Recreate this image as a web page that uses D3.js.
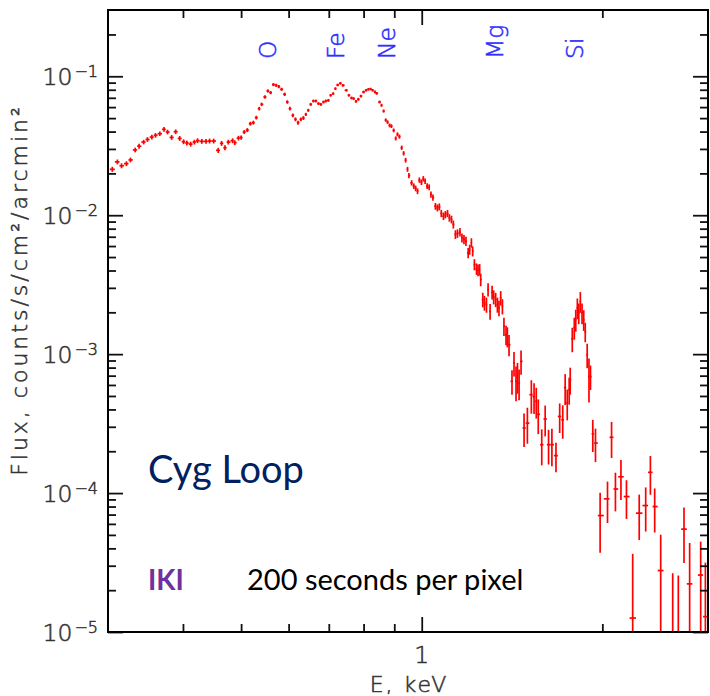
<!DOCTYPE html>
<html>
<head>
<meta charset="utf-8">
<script src="https://cdn.jsdelivr.net/npm/d3@7"></script>
<style>
  html, body { margin: 0; padding: 0; background: #fff; }
  svg { display: block; }
</style>
</head>
<body>
<svg id="chart" width="710" height="696"></svg>
<script>
// Cygnus Loop X-ray spectrum, 200 s exposure per pixel

// Bin centre energies, keV
const energy = [
  0.305, 0.311, 0.316, 0.322, 0.327, 0.333, 0.338, 0.344, 0.349, 0.355, 0.360, 0.366, 0.372, 0.377, 0.383, 0.389, 0.395,
  0.401, 0.406, 0.412, 0.418, 0.423, 0.430, 0.437, 0.443, 0.450, 0.458, 0.464, 0.470, 0.476, 0.484, 0.488, 0.495,
  0.500, 0.506, 0.512, 0.518, 0.524, 0.530, 0.536, 0.541, 0.548, 0.554, 0.560, 0.566, 0.572, 0.578, 0.584, 0.591,
  0.597, 0.603, 0.610, 0.616, 0.622, 0.629, 0.635,
  0.641, 0.647, 0.653, 0.660, 0.666, 0.673, 0.679, 0.686, 0.692, 0.699, 0.705, 0.712, 0.718, 0.724, 0.732, 0.739,
  0.749, 0.756, 0.764, 0.770, 0.777, 0.784, 0.792, 0.800, 0.808, 0.815, 0.822, 0.828, 0.836, 0.841, 0.851, 0.857,
  0.864, 0.871,
  0.877, 0.884, 0.890, 0.898, 0.905, 0.911, 0.918, 0.926, 0.933, 0.940, 0.947, 0.952, 0.962, 0.970, 0.977, 0.984,
  0.991, 0.999, 1.006, 1.013,
  1.021, 1.029, 1.036, 1.044, 1.054, 1.062, 1.070, 1.078, 1.087, 1.095, 1.104, 1.112, 1.121, 1.129, 1.138, 1.147,
  1.158, 1.167, 1.176, 1.185,
  1.195, 1.202, 1.210, 1.216, 1.224, 1.234, 1.241, 1.249, 1.254, 1.264, 1.272, 1.282, 1.290, 1.300, 1.310, 1.318,
  1.328, 1.337, 1.345, 1.354, 1.363, 1.371, 1.382, 1.389, 1.398,
  1.414, 1.425, 1.436, 1.444, 1.453, 1.464,
  1.481, 1.500, 1.523, 1.539, 1.552, 1.564, 1.585, 1.606, 1.627, 1.648, 1.674, 1.698, 1.718, 1.734, 1.748, 1.761, 1.768,
  1.782, 1.796, 1.806, 1.817, 1.827, 1.838, 1.850, 1.862, 1.873, 1.887, 1.900, 1.911, 1.928, 1.948,
  1.983, 2.040, 2.072, 2.103, 2.148, 2.194, 2.247, 2.304, 2.362, 2.405, 2.445, 2.502, 2.557, 2.620, 2.677, 2.736,
  2.796, 2.855, 2.917, 2.970
];

// Surface brightness, counts/s/cm2/arcmin2
const flux = [
  0.0214, 0.0242, 0.0227, 0.0235, 0.0250, 0.0295, 0.0314, 0.0336, 0.0351, 0.0365, 0.0376, 0.0386, 0.0415, 0.0397, 0.0363, 0.0399, 0.0357,
  0.0338, 0.0331, 0.0325, 0.0336, 0.0344, 0.0340, 0.0340, 0.0342, 0.0342, 0.0293, 0.0329, 0.0306, 0.0336, 0.0344, 0.0333, 0.0359,
  0.0362, 0.0397, 0.0410, 0.0456, 0.0464, 0.0504, 0.0585, 0.0628, 0.0709, 0.0784, 0.0763, 0.0871, 0.0861, 0.0843, 0.0806, 0.0742,
  0.0653, 0.0585, 0.0523, 0.0490, 0.0464, 0.0490, 0.0501,
  0.0532, 0.0569, 0.0628, 0.0664, 0.0664, 0.0636, 0.0628, 0.0653, 0.0664, 0.0671, 0.0730, 0.0750, 0.0815, 0.0866, 0.0890, 0.0861,
  0.0793, 0.0730, 0.0698, 0.0691, 0.0660, 0.0683, 0.0721, 0.0771, 0.0793, 0.0806, 0.0810, 0.0793, 0.0771, 0.0754, 0.0653, 0.0618,
  0.0562, 0.0484,
  0.0468, 0.0443, 0.0438, 0.0408, 0.0357, 0.0382, 0.0368, 0.0306, 0.0279, 0.0249, 0.0214, 0.0193, 0.0171, 0.0162, 0.0156, 0.0149,
  0.0179, 0.0173, 0.0183, 0.0176,
  0.0162, 0.0159, 0.0141, 0.0134, 0.0116, 0.0113, 0.0115, 0.0103, 0.00984, 0.0101, 0.0103, 0.00958, 0.00932, 0.00858, 0.00727, 0.00739,
  0.00755, 0.00688, 0.00669, 0.00650,
  0.00536, 0.00566, 0.00633, 0.00551, 0.00442, 0.00411, 0.00402, 0.00406, 0.00344, 0.00247, 0.00234, 0.00227, 0.00292, 0.00203, 0.00279, 0.00258,
  0.00247, 0.00227, 0.00215, 0.00254, 0.00221, 0.00159, 0.00138, 0.00134, 0.00117,
  0.000637, 0.000864, 0.000637, 0.000692, 0.000620, 0.000887,
  0.000294, 0.000319, 0.000511, 0.000494, 0.000458, 0.000369, 0.000223, 0.000341, 0.000223, 0.000223, 0.000186, 0.000356, 0.000337, 0.000574, 0.000445, 0.000555, 0.000655,
  0.00129, 0.00155, 0.00177, 0.00215, 0.00198, 0.00239, 0.00198, 0.00177, 0.00145, 0.00099, 0.00069, 0.00069, 0.000267, 0.000229,
  6.89e-5, 9.09e-5, 2.52e-4, 1.07e-4, 1.31e-4, 9.44e-5, 1.26e-5, 7.17e-5, 8.13e-5, 1.41e-4, 8.0e-5, 2.77e-5, 1.0e-5, 5.0e-6, 5.0e-6, 5.5e-5,
  2.22e-5, 1.0e-5, 2.57e-5, 1.29e-5
];

// 1-sigma error as a fraction of the flux
const fracErr = [
  0.042, 0.040, 0.041, 0.040, 0.040, 0.039, 0.040, 0.038, 0.039, 0.038, 0.038, 0.037, 0.038, 0.038, 0.040, 0.038, 0.040,
  0.040, 0.041, 0.041, 0.040, 0.040, 0.040, 0.040, 0.040, 0.040, 0.043, 0.041, 0.042, 0.040, 0.040, 0.040, 0.039,
  0.034, 0.033, 0.033, 0.032, 0.032, 0.031, 0.030, 0.029, 0.028, 0.027, 0.027, 0.026, 0.026, 0.026, 0.027, 0.028,
  0.029, 0.030, 0.031, 0.032, 0.033, 0.032, 0.032,
  0.026, 0.025, 0.024, 0.024, 0.024, 0.024, 0.024, 0.024, 0.024, 0.024, 0.023, 0.023, 0.022, 0.022, 0.021, 0.022,
  0.022, 0.023, 0.024, 0.024, 0.024, 0.024, 0.023, 0.023, 0.022, 0.022, 0.022, 0.022, 0.023, 0.023, 0.024, 0.025,
  0.026, 0.028,
  0.030, 0.031, 0.031, 0.032, 0.034, 0.033, 0.034, 0.036, 0.037, 0.039, 0.041, 0.043, 0.045, 0.046, 0.047, 0.048,
  0.045, 0.046, 0.045, 0.046,
  0.048, 0.049, 0.052, 0.053, 0.057, 0.058, 0.057, 0.060, 0.062, 0.061, 0.060, 0.063, 0.064, 0.066, 0.072, 0.071,
  0.070, 0.074, 0.075, 0.077,
  0.085, 0.083, 0.078, 0.084, 0.092, 0.095, 0.097, 0.096, 0.104, 0.120, 0.122, 0.125, 0.110, 0.130, 0.112, 0.116,
  0.118, 0.124, 0.128, 0.118, 0.126, 0.150, 0.160, 0.165, 0.175,
  0.20, 0.20, 0.28, 0.25, 0.25, 0.20,
  0.27, 0.29, 0.27, 0.25, 0.25, 0.28, 0.29, 0.25, 0.28, 0.30, 0.24, 0.24, 0.27, 0.25, 0.25, 0.22, 0.22,
  0.20, 0.18, 0.18, 0.17, 0.17, 0.17, 0.17, 0.17, 0.16, 0.20, 0.35, 0.20, 0.26, 0.27,
  0.46, 0.33, 0.29, 0.31, 0.32, 0.31, 1.90, 0.36, 0.35, 0.31, 0.35, 0.81, 0.0, 4.3, 4.1, 0.43,
  0.97, 0.0, 0.74, 1.45
];

// Emission line markers
const lineNames = ["O", "Fe", "Ne", "Mg", "Si"];
const lineEnergy = [0.554, 0.719, 0.874, 1.32, 1.80];

// Axis ticks
const xMajorTicks = [1];
const xMinorTicks = [0.4, 0.5, 0.6, 0.7, 0.8, 0.9, 2];
const yDecadeExp = [-1, -2, -3, -4, -5];
const yMinorMult = [2, 3, 4, 5, 6, 7, 8, 9];

const plot = { left: 108, right: 708, top: 10, bottom: 632 };

const svg = d3.select("#chart");

const x = d3.scaleLog().domain([0.3, 3]).range([plot.left, plot.right]);
const y = d3.scaleLog().domain([1e-5, 0.3]).range([plot.bottom, plot.top]);

const yMajorTicks = yDecadeExp.map(e => Math.pow(10, e));
const yMinorTicks = [];
yDecadeExp.concat([-6]).forEach(e => {
  yMinorMult.forEach(m => {
    const v = m * Math.pow(10, e);
    if (v > 1e-5 && v < 0.3) yMinorTicks.push(v);
  });
});

// clip for the data marks
svg.append("defs").append("clipPath").attr("id", "plotClip")
  .append("rect")
  .attr("x", plot.left).attr("y", plot.top)
  .attr("width", plot.right - plot.left).attr("height", plot.bottom - plot.top);

// ---- data: error crosses ----
const pts = energy.map((e, i) => {
  const lo = i > 0 ? Math.sqrt(energy[i - 1] * e) : e * e / Math.sqrt(e * energy[i + 1]);
  const hi = i < energy.length - 1 ? Math.sqrt(energy[i + 1] * e) : e * e / Math.sqrt(e * energy[i - 1]);
  const s = flux[i] * fracErr[i];
  return { e, f: flux[i], lo, hi, fLo: flux[i] - s, fHi: flux[i] + s };
});

const dataG = svg.append("g").attr("clip-path", "url(#plotClip)")
  .attr("stroke", "#ff0000").attr("stroke-width", 1.7).attr("fill", "none");

dataG.selectAll("line.h").data(pts).join("line").attr("class", "h")
  .attr("x1", d => x(d.lo)).attr("x2", d => x(d.hi))
  .attr("y1", d => y(d.f)).attr("y2", d => y(d.f));

dataG.selectAll("line.v").data(pts.filter(d => d.fHi > d.f)).join("line").attr("class", "v")
  .attr("x1", d => x(d.e)).attr("x2", d => x(d.e))
  .attr("y1", d => y(d.fHi))
  .attr("y2", d => d.fLo > 0 ? y(d.fLo) : plot.bottom + 10);

// ---- axes (ticks on all four sides, pointing inward) ----
const tickStyle = g => {
  g.select(".domain").remove();
  g.selectAll(".tick line").attr("stroke", "#111").attr("stroke-width", 1.8);
  g.selectAll(".tick text").remove();
};

svg.append("g").attr("transform", `translate(0,${plot.bottom})`)
  .call(d3.axisBottom(x).tickValues(xMinorTicks).tickSize(-8).tickFormat("")).call(tickStyle);
svg.append("g").attr("transform", `translate(0,${plot.bottom})`)
  .call(d3.axisBottom(x).tickValues(xMajorTicks).tickSize(-15).tickFormat("")).call(tickStyle);
svg.append("g").attr("transform", `translate(0,${plot.top})`)
  .call(d3.axisTop(x).tickValues(xMinorTicks).tickSize(-8).tickFormat("")).call(tickStyle);
svg.append("g").attr("transform", `translate(0,${plot.top})`)
  .call(d3.axisTop(x).tickValues(xMajorTicks).tickSize(-15).tickFormat("")).call(tickStyle);

svg.append("g").attr("transform", `translate(${plot.left},0)`)
  .call(d3.axisLeft(y).tickValues(yMinorTicks).tickSize(-8).tickFormat("")).call(tickStyle);
svg.append("g").attr("transform", `translate(${plot.left},0)`)
  .call(d3.axisLeft(y).tickValues(yMajorTicks).tickSize(-15).tickFormat("")).call(tickStyle);
svg.append("g").attr("transform", `translate(${plot.right},0)`)
  .call(d3.axisRight(y).tickValues(yMinorTicks).tickSize(-8).tickFormat("")).call(tickStyle);
svg.append("g").attr("transform", `translate(${plot.right},0)`)
  .call(d3.axisRight(y).tickValues(yMajorTicks).tickSize(-15).tickFormat("")).call(tickStyle);

// frame
svg.append("rect")
  .attr("x", plot.left).attr("y", plot.top)
  .attr("width", plot.right - plot.left).attr("height", plot.bottom - plot.top)
  .attr("fill", "none").attr("stroke", "#000").attr("stroke-width", 2);

// ---- tick labels ----
const axisFont = "'DejaVu Sans', sans-serif";
const axisColor = "#333";

// thin plotter-style lettering: light face with a hairline stroke
const plotterText = (sel, color) => sel
  .attr("font-family", axisFont).attr("font-weight", 200)
  .attr("fill", color).attr("stroke", color).attr("stroke-width", 0.55);

const yLab = svg.append("g").call(plotterText, axisColor);
yDecadeExp.forEach(e => {
  const t = yLab.append("text")
    .attr("x", 98).attr("y", y(Math.pow(10, e)) + 8.5)
    .attr("text-anchor", "end").attr("font-size", 23.5);
  t.append("tspan").text("10");
  t.append("tspan").attr("dx", 2).attr("dy", -8).attr("font-size", 16).text("\u2212" + Math.abs(e));
});

svg.append("g").call(plotterText, axisColor)
  .selectAll("text").data(xMajorTicks).join("text")
  .attr("x", d => x(d)).attr("y", 663)
  .attr("text-anchor", "middle").attr("font-size", 23.5)
  .text(d => d);

// axis titles
svg.append("text").call(plotterText, axisColor)
  .attr("x", (plot.left + plot.right) / 2 + 1).attr("y", 692)
  .attr("text-anchor", "middle")
  .attr("font-size", 22).attr("letter-spacing", 2)
  .text("E, keV");

svg.append("text").call(plotterText, axisColor)
  .attr("transform", "translate(27,290) rotate(-90)")
  .attr("text-anchor", "middle")
  .attr("font-size", 22).attr("letter-spacing", 3)
  .text("Flux, counts/s/cm\u00B2/arcmin\u00B2");

// ---- emission line labels ----
svg.append("g").call(plotterText, "#2f2fff").attr("font-size", 23.5)
  .selectAll("text").data(lineNames).join("text")
  .attr("transform", (d, i) => `translate(${x(lineEnergy[i]) + 8.5},59) rotate(-90)`)
  .attr("text-anchor", "start")
  .text(d => d);

// ---- annotations ----
svg.append("text")
  .attr("x", 148).attr("y", 483)
  .attr("font-family", "Lato, 'Open Sans', sans-serif").attr("font-size", 38)
  .attr("fill", "#002060")
  .text("Cyg Loop");

svg.append("text")
  .attr("x", 148).attr("y", 590)
  .attr("font-family", "Lato, 'Open Sans', sans-serif").attr("font-weight", 700).attr("font-size", 28)
  .attr("fill", "#7030a0")
  .text("IKI");

svg.append("text")
  .attr("x", 247).attr("y", 590)
  .attr("font-family", "Lato, 'Open Sans', sans-serif").attr("font-size", 29)
  .attr("fill", "#000")
  .text("200 seconds per pixel");
</script>
</body>
</html>
